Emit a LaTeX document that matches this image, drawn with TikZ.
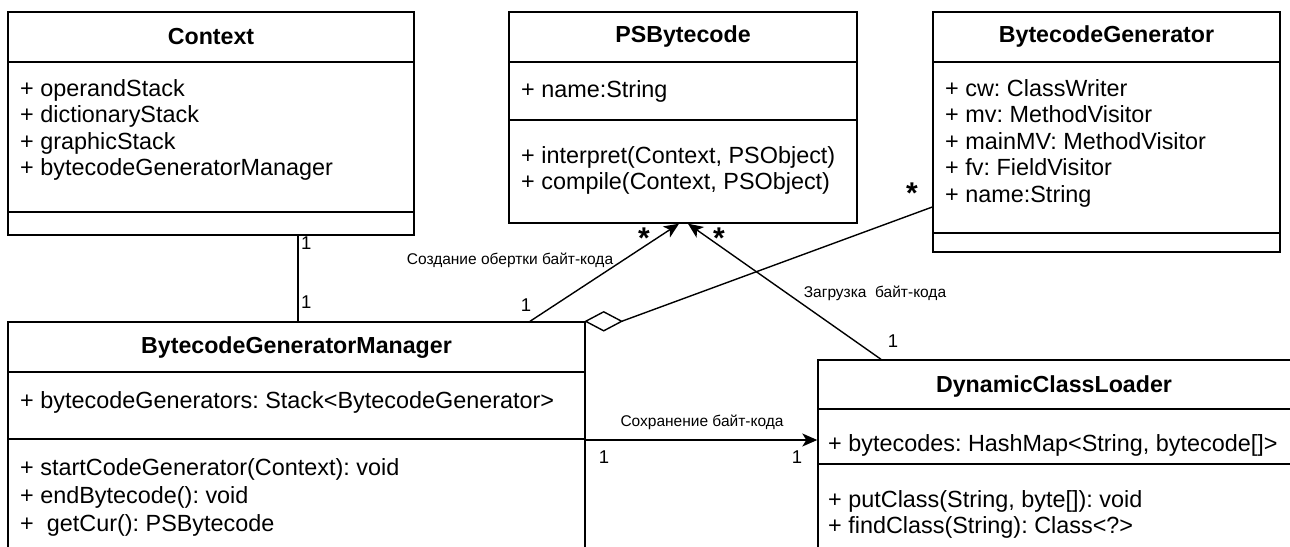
\documentclass[tikz,border=0pt]{standalone}
\usepackage{fontspec}
\setmainfont{Liberation Sans}
\usetikzlibrary{arrows.meta}
\frenchspacing

\tikzset{
  classbox/.style={draw, line width=1.4pt, inner sep=0pt, rectangle},
  classname/.style={font=\fontsize{23.2}{26}\selectfont\bfseries},
  members/.style={anchor=north west, align=left, inner sep=0pt,
    font=\fontsize{23.4}{26.5}\selectfont},
  assoc/.style={line width=1.4pt},
  navig/.style={assoc, -{Stealth[length=15pt,width=13pt,inset=4pt]}},
  mult/.style={font=\fontsize{18.5}{18.5}\selectfont, inner sep=1pt},
  star/.style={font=\fontsize{30}{30}\selectfont\bfseries, inner sep=1pt},
  rolename/.style={font=\fontsize{15.5}{15.5}\selectfont, inner sep=1pt}
}

\begin{document}
\begin{tikzpicture}[x=1pt, y=-1pt]
\useasboundingbox (0,0) rectangle (1290,546);
\clip (0,0) rectangle (1290,546);

% Context
\node[classbox, minimum width=406, minimum height=223] (ctx) at (211,123.5) {};
\draw[assoc] (ctx.west |- 0,62) -- (ctx.east |- 0,62)
             (ctx.west |- 0,212) -- (ctx.east |- 0,212);
\node[classname] (ctxname) at (211,37) {Context};
\node[members] (ctxattr) at (20,79) {+ operandStack\\+ dictionaryStack\\+ graphicStack\\+ bytecodeGeneratorManager};

% PSBytecode
\node[classbox, minimum width=348, minimum height=211] (psb) at (683,117.5) {};
\draw[assoc] (psb.west |- 0,62) -- (psb.east |- 0,62)
             (psb.west |- 0,120) -- (psb.east |- 0,120);
\node[classname] (psbname) at (683,37) {PSBytecode};
\node[members] (psbattr) at (521,80) {+ name:String};
\node[members] (psbops) at (521,146) {+ interpret(Context, PSObject)\\+ compile(Context, PSObject)};

% BytecodeGenerator
\node[classbox, minimum width=347, minimum height=240] (bg) at (1106.5,132) {};
\draw[assoc] (bg.west |- 0,62) -- (bg.east |- 0,62)
             (bg.west |- 0,233) -- (bg.east |- 0,233);
\node[classname] (bgname) at (1106.5,37) {BytecodeGenerator};
\node[members] (bgattr) at (945,79) {+ cw: ClassWriter\\+ mv: MethodVisitor\\+ mainMV: MethodVisitor\\+ fv: FieldVisitor\\+ name:String};

% BytecodeGeneratorManager
\node[classbox, minimum width=577, minimum height=248] (bgm) at (296.5,446) {};
\draw[assoc] (bgm.west |- 0,372) -- (bgm.east |- 0,372)
             (bgm.west |- 0,439) -- (bgm.east |- 0,439);
\node[classname] (bgmname) at (296.5,348) {BytecodeGeneratorManager};
\node[members] (bgmattr) at (20,391) {+ bytecodeGenerators: Stack<BytecodeGenerator>};
\node[members, font=\fontsize{23.4}{28}\selectfont] (bgmops) at (20,458) {+ startCodeGenerator(Context): void\\+ endBytecode(): void\\+\ \ getCur(): PSBytecode};

% DynamicClassLoader
\node[classbox, minimum width=474, minimum height=210] (dcl) at (1055,465) {};
\draw[assoc] (dcl.west |- 0,409) -- (dcl.east |- 0,409)
             (dcl.west |- 0,464) -- (dcl.east |- 0,464);
\node[classname] (dclname) at (1054,386) {DynamicClassLoader};
\node[members] (dclattr) at (828,434) {+ bytecodes: HashMap<String, bytecode[]>};
\node[members] (dclops) at (828,490) {+ putClass(String, byte[]): void\\+ findClass(String): Class<?>};

% connectors
\draw[assoc] (ctx.south -| 298,0) -- (bgm.north -| 298,0);
\node[mult, anchor=west] (m1) at (300,243) {1};
\node[mult, anchor=west] (m2) at (300,302) {1};

\draw[navig] (bgm.north -| 530,0) -- (psb.south -| 679,0);
\node[rolename] (r1) at (510,260) {Создание обертки байт-кода};
\node[mult] (m3) at (526,305) {1};
\node[star] (s1) at (644,238) {*};

\draw[navig] (dcl.north -| 881,0) -- (psb.south -| 688,0);
\node[rolename] (r2) at (875,293) {Загрузка\ \ байт-кода};
\node[mult] (m4) at (893,341) {1};
\node[star] (s2) at (719,238) {*};

\draw[assoc] (bgm.north east) -- ++(18,-9.5) -- ++(18,9.5) coordinate (dtip) -- ++(-18,9.5) -- cycle;
\draw[assoc] (dtip) -- (bg.west |- 0,207);
\node[star] (s3) at (912,193) {*};

\draw[navig] (bgm.east |- 0,440) -- (dcl.west |- 0,440);
\node[rolename] (r3) at (702,422) {Сохранение байт-кода};
\node[mult] (m5) at (604,457) {1};
\node[mult] (m6) at (797,457) {1};
\end{tikzpicture}
\end{document}
